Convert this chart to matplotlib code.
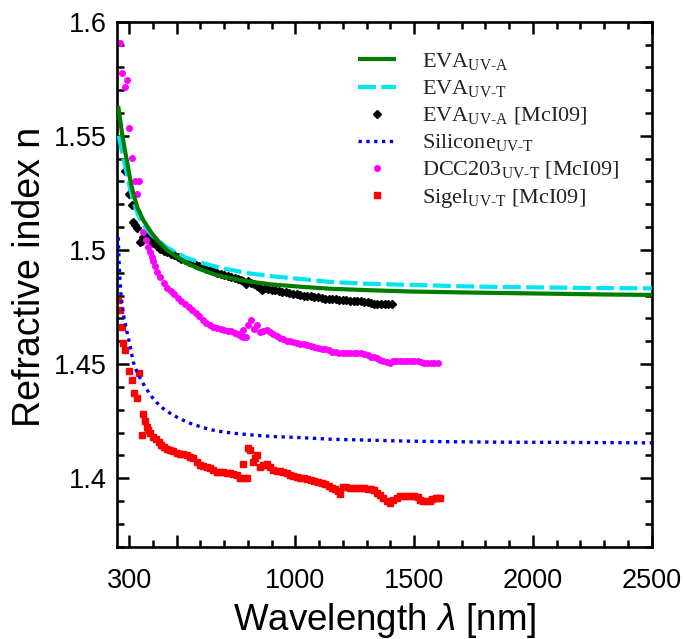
import matplotlib
matplotlib.use('Agg')
import matplotlib.pyplot as plt
from matplotlib.ticker import FixedLocator, FixedFormatter, MultipleLocator

# ---------------- data ----------------
wl_eva_a = [254, 262, 270, 280, 290, 303, 317, 335, 359, 395, 430, 458, 500, 542,
            600, 668, 740, 809, 900, 1019, 1150, 1300, 1482, 1700, 1900, 2100, 2300, 2500]
n_eva_a = [1.5630, 1.5570, 1.5511, 1.5448, 1.5394, 1.5315, 1.5248, 1.5185, 1.5131, 1.5073,
           1.5030, 1.5000, 1.4970, 1.4942, 1.4915, 1.4890, 1.4874, 1.4861, 1.4849, 1.4839,
           1.4830, 1.4824, 1.4818, 1.4814, 1.4811, 1.4808, 1.4805, 1.4803]

wl_eva_t = [256, 262, 270, 280, 290, 303, 317, 335, 359, 395, 430, 458, 500, 542, 600,
            640, 700, 809, 900, 1061, 1145, 1300, 1482, 1700, 1847, 2100, 2300, 2500]
n_eva_t = [1.5500, 1.5470, 1.5430, 1.5380, 1.5335, 1.5270, 1.5215, 1.5160, 1.5110, 1.5065,
           1.5035, 1.5012, 1.4987, 1.4965, 1.4945, 1.4934, 1.4918, 1.4897, 1.4885, 1.4869,
           1.4860, 1.4852, 1.4847, 1.4841, 1.4838, 1.4835, 1.4833, 1.4832]

wl_sil = [254, 257, 261, 265, 270, 278, 290, 303, 317, 331, 345, 370, 395, 430, 472, 510,
          556, 610, 668, 740, 809, 900, 1019, 1145, 1300, 1450, 1637, 1850, 2100, 2300, 2500]
n_sil = [1.5055, 1.4960, 1.4870, 1.4810, 1.4760, 1.4705, 1.4645, 1.4585, 1.4510, 1.4470,
         1.4440, 1.4395, 1.4357, 1.4315, 1.4285, 1.4262, 1.4241, 1.4222, 1.4207, 1.4197,
         1.4190, 1.4183, 1.4178, 1.4171, 1.4167, 1.4163, 1.4160, 1.4158, 1.4157, 1.4156,
         1.4155]

# measured points (wavelength nm, n)
eva_mci = [(284, 1.5347), (300, 1.5245), (311, 1.5197), (317, 1.5124), (325, 1.5110),
           (332, 1.5095), (346, 1.5036), (353, 1.5040), (360, 1.5058), (367, 1.5062),
           (374, 1.5066), (388, 1.5044), (402, 1.5030), (416, 1.5016), (430, 1.5005),
           (445, 1.4997), (460, 1.4990), (475, 1.4983), (490, 1.4976), (505, 1.4970),
           (520, 1.4962), (535, 1.4956), (550, 1.4948), (565, 1.4942), (580, 1.4936),
           (595, 1.4930), (610, 1.4924), (625, 1.4918), (640, 1.4912), (655, 1.4906),
           (670, 1.4900), (685, 1.4896), (700, 1.4892), (715, 1.4886), (730, 1.4882),
           (745, 1.4878), (760, 1.4874), (772, 1.4870), (781, 1.4866), (790, 1.4850),
           (800, 1.4862), (812, 1.4856), (825, 1.4850), (840, 1.4840), (851, 1.4835),
           (860, 1.4826), (872, 1.4834), (885, 1.4830), (900, 1.4826), (915, 1.4823),
           (930, 1.4820), (945, 1.4818), (960, 1.4815), (975, 1.4810), (990, 1.4807),
           (1005, 1.4805), (1020, 1.4802), (1035, 1.4800), (1050, 1.4798), (1065, 1.4797),
           (1080, 1.4795), (1095, 1.4793), (1110, 1.4790), (1125, 1.4787), (1140, 1.4785),
           (1155, 1.4784), (1170, 1.4783), (1185, 1.4782), (1200, 1.4781), (1215, 1.4779),
           (1230, 1.4778), (1245, 1.4777), (1260, 1.4776), (1275, 1.4775), (1290, 1.4774),
           (1305, 1.4770), (1318, 1.4766), (1330, 1.4762), (1345, 1.4762), (1360, 1.4762),
           (1375, 1.4762), (1390, 1.4762), (1405, 1.4762)]

dcc203 = [(262, 1.5906), (271, 1.5775), (281, 1.5714), (292, 1.5745), (300, 1.5535),
          (310, 1.5405), (324, 1.5304), (332, 1.5245), (342, 1.5304), (360, 1.5080),
          (370, 1.5045), (381, 1.5015), (388, 1.4990), (395, 1.4970), (402, 1.4950),
          (409, 1.4928), (416, 1.4905), (430, 1.4880), (445, 1.4856), (460, 1.4835),
          (475, 1.4820), (490, 1.4805), (505, 1.4788), (520, 1.4775), (535, 1.4762),
          (550, 1.4750), (565, 1.4735), (580, 1.4723), (595, 1.4712), (610, 1.4695),
          (625, 1.4682), (640, 1.4670), (655, 1.4662), (670, 1.4656), (685, 1.4654),
          (700, 1.4650), (715, 1.4647), (730, 1.4643), (745, 1.4638), (760, 1.4632),
          (770, 1.4625), (781, 1.4620), (790, 1.4620), (781, 1.4650), (802, 1.4672),
          (812, 1.4693), (826, 1.4653), (837, 1.4672), (851, 1.4642), (865, 1.4645),
          (879, 1.4650), (893, 1.4640), (907, 1.4630), (921, 1.4622), (935, 1.4615),
          (949, 1.4608), (963, 1.4603), (977, 1.4600), (991, 1.4597), (1005, 1.4592),
          (1020, 1.4588), (1035, 1.4586), (1050, 1.4582), (1065, 1.4578), (1080, 1.4573),
          (1095, 1.4571), (1110, 1.4568), (1125, 1.4564), (1140, 1.4560), (1155, 1.4554),
          (1170, 1.4552), (1185, 1.4550), (1200, 1.4549), (1215, 1.4548), (1230, 1.4547),
          (1245, 1.4547), (1260, 1.4547), (1275, 1.4547), (1290, 1.4546), (1305, 1.4540),
          (1318, 1.4532), (1330, 1.4530), (1342, 1.4525), (1356, 1.4518), (1370, 1.4515),
          (1385, 1.4508), (1398, 1.4503), (1410, 1.4512), (1425, 1.4513), (1440, 1.4513),
          (1455, 1.4513), (1470, 1.4513), (1485, 1.4513), (1500, 1.4513), (1515, 1.4512),
          (1528, 1.4507), (1540, 1.4504), (1555, 1.4504), (1570, 1.4504), (1585, 1.4504),
          (1600, 1.4504)]

sigel = [(254, 1.4780), (261, 1.4737), (268, 1.4664), (275, 1.4591), (282, 1.4562),
         (300, 1.4471), (311, 1.4430), (320, 1.4372), (332, 1.4350), (343, 1.4462),
         (353, 1.4190), (360, 1.4282), (367, 1.4250), (374, 1.4226), (381, 1.4210),
         (388, 1.4197), (400, 1.4182), (412, 1.4170), (424, 1.4158), (436, 1.4145),
         (448, 1.4136), (460, 1.4130), (472, 1.4124), (486, 1.4118), (500, 1.4112),
         (514, 1.4108), (528, 1.4105), (542, 1.4102), (556, 1.4095), (570, 1.4088),
         (584, 1.4072), (598, 1.4059), (612, 1.4052), (626, 1.4048), (640, 1.4044),
         (654, 1.4036), (668, 1.4029), (682, 1.4027), (696, 1.4026), (710, 1.4025),
         (724, 1.4022), (738, 1.4018), (753, 1.4015), (767, 1.4000), (781, 1.4000),
         (795, 1.4000), (781, 1.4063), (802, 1.4132), (809, 1.4122), (823, 1.4073),
         (830, 1.4090), (837, 1.4102), (851, 1.4051), (865, 1.4060), (879, 1.4061),
         (893, 1.4050), (907, 1.4036), (921, 1.4033), (935, 1.4030), (949, 1.4029),
         (963, 1.4022), (977, 1.4015), (991, 1.4010), (1005, 1.4007), (1020, 1.4003),
         (1035, 1.3999), (1050, 1.3996), (1065, 1.3992), (1080, 1.3988), (1095, 1.3983),
         (1110, 1.3980), (1125, 1.3975), (1140, 1.3966), (1155, 1.3958), (1168, 1.3952),
         (1180, 1.3945), (1188, 1.3931), (1202, 1.3961), (1215, 1.3960), (1230, 1.3959),
         (1245, 1.3958), (1260, 1.3957), (1275, 1.3956), (1290, 1.3956), (1305, 1.3954),
         (1318, 1.3952), (1330, 1.3948), (1342, 1.3935), (1356, 1.3925), (1370, 1.3912),
         (1384, 1.3900), (1398, 1.3891), (1412, 1.3905), (1426, 1.3915), (1440, 1.3921),
         (1455, 1.3921), (1470, 1.3921), (1485, 1.3921), (1500, 1.3921), (1514, 1.3918),
         (1524, 1.3903), (1538, 1.3902), (1552, 1.3902), (1566, 1.3902), (1576, 1.3911),
         (1590, 1.3912), (1600, 1.3912), (1609, 1.3912)]

x_major = [300, 500, 1000, 1500, 2000, 2500]
x_major_labels = ['300', '', '1000', '1500', '2000', '2500']
y_major = [1.40, 1.45, 1.50, 1.55, 1.60]
y_major_labels = ['1.4', '1.45', '1.5', '1.55', '1.6']

labels = [r'EVA$_{\text{UV-A}}$',
          r'EVA$_{\text{UV-T}}$',
          r'EVA$_{\text{UV-A}}$ [McI09]',
          r'Silicone$_{\text{UV-T}}$',
          r'DCC203$_{\text{UV-T}}$ [McI09]',
          r'Sigel$_{\text{UV-T}}$ [McI09]']

wl_eva_mci, n_eva_mci = zip(*eva_mci)
wl_dcc, n_dcc = zip(*dcc203)
wl_sigel, n_sigel = zip(*sigel)

# ---------------- style ----------------
plt.rcParams['font.family'] = ['Liberation Sans', 'DejaVu Sans']
plt.rcParams['mathtext.fontset'] = 'custom'
plt.rcParams['mathtext.rm'] = 'Liberation Serif'
plt.rcParams['mathtext.it'] = 'Liberation Sans:italic'
plt.rcParams['mathtext.bf'] = 'Liberation Serif:bold'

fig = plt.figure(figsize=(6.84, 6.39), dpi=100)
ax = fig.add_axes([117.3 / 684, 1 - 546.7 / 639, (651.7 - 117.3) / 684, (546.7 - 21.7) / 639])

h1, = ax.plot(wl_eva_a, n_eva_a, color='#007d00', lw=3.0, solid_capstyle='butt', zorder=4)
h2, = ax.plot(wl_eva_t, n_eva_t, color='#00e5ee', lw=3.0, dashes=(4.3, 1.3), zorder=3)
h3, = ax.plot(wl_eva_mci, n_eva_mci, ls='none', marker='D', ms=4.4, color='black',
              mec='black', zorder=2)
h4, = ax.plot(wl_sil, n_sil, color='#0000ee', lw=2.4, dashes=(1.0, 1.35), zorder=3)
h5, = ax.plot(wl_dcc, n_dcc, ls='none', marker='o', ms=4.0, color='#ff00ff',
              mec='#ff00ff', zorder=2)
h6, = ax.plot(wl_sigel, n_sigel, ls='none', marker='s', ms=3.8, color='#ff0000',
              mec='#ff0000', zorder=2)

ax.set_xlim(250, 2500)
ax.set_ylim(1.37, 1.60)

ax.xaxis.set_major_locator(FixedLocator(x_major))
ax.xaxis.set_major_formatter(FixedFormatter(x_major_labels))
ax.xaxis.set_minor_locator(MultipleLocator(100))
ax.yaxis.set_major_locator(FixedLocator(y_major))
ax.yaxis.set_major_formatter(FixedFormatter(y_major_labels))
ax.yaxis.set_minor_locator(MultipleLocator(0.01))

for s in ax.spines.values():
    s.set_linewidth(1.9)
ax.tick_params(which='both', direction='in', top=True, right=True, width=1.8)
ax.tick_params(which='major', length=8.6)
ax.tick_params(which='minor', length=5)
ax.tick_params(axis='x', which='major', labelsize=19.5, pad=15.5)
ax.tick_params(axis='y', which='major', labelsize=19.5, pad=7.5)

ax.set_xlabel(r'Wavelength $\lambda$ [nm]', fontsize=26.5, va='baseline')
ax.set_ylabel('Refractive index n', fontsize=27)
ax.xaxis.set_label_coords(0.5, (546.7 - 630) / 525)
ax.yaxis.set_label_coords(-0.13, 0.514)

leg = ax.legend([h1, h2, h3, h4, h5, h6], labels, loc='upper left',
                bbox_to_anchor=(358 / 684, 1 - 51 / 639), bbox_transform=fig.transFigure,
                frameon=False, borderpad=0, borderaxespad=0, handlelength=1.7,
                handletextpad=1.2, labelspacing=0.26, numpoints=1,
                prop={'family': 'Liberation Serif', 'size': 16})
for t in leg.get_texts():
    t.set_color('#222222')

fig.savefig('out.png', dpi=100)
